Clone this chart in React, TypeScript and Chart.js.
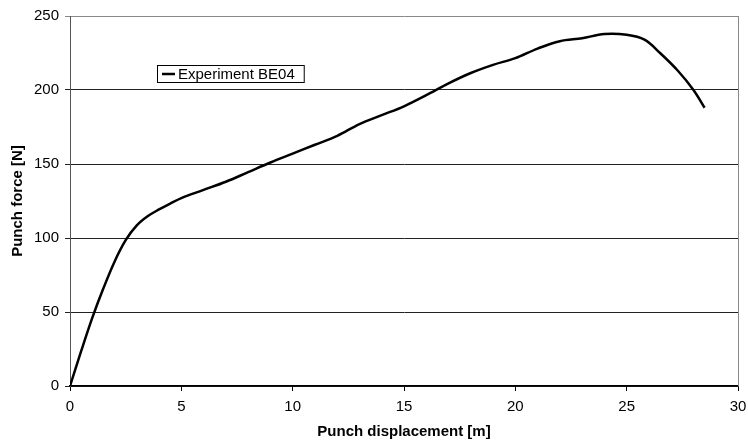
import React, { useEffect, useRef } from "react";
import { Chart, registerables } from "chart.js";

Chart.register(...registerables);

const displacement = [0, 0.5, 1.0, 1.5, 2.0, 2.5, 3.0, 3.5, 4.0, 4.5, 5.0, 6.0, 7.0, 8.0, 9.0, 10.0, 11.0, 12.0, 13.0, 14.0, 15.0, 16.0, 17.0, 18.0, 19.0, 20.0, 21.0, 22.0, 23.0, 24.0, 25.0, 25.8, 26.5, 27.3, 28.0, 28.5];
const force = [0, 23.5, 46, 66, 84, 98.5, 108.5, 114.8, 119.3, 123.3, 127, 132.5, 138, 144.5, 151, 157, 163, 169, 177, 183, 189, 196.5, 204.5, 211.5, 217, 221.5, 228, 233, 235, 237.8, 237.3, 234, 225, 213, 200, 188];
const seriesLabel = "Experiment BE04";
const xTitle = "Punch displacement [m]";
const yTitle = "Punch force [N]";

const FONT = "'Liberation Sans', Arial, sans-serif";

const legendPlugin = {
  id: "customLegend",
  afterDraw(chart: any) {
    const { ctx, chartArea } = chart;
    const x = chartArea.left + 87;
    const y = chartArea.top + 49;
    ctx.save();
    ctx.font = `15px ${FONT}`;
    const tw = ctx.measureText(seriesLabel).width;
    const w = 25 + tw + 5;
    const h = 17;
    ctx.fillStyle = "#fff";
    ctx.fillRect(x, y, w, h);
    ctx.strokeStyle = "#000";
    ctx.lineWidth = 1;
    ctx.strokeRect(x + 0.5, y + 0.5, w, h);
    ctx.beginPath();
    ctx.lineWidth = 2.5;
    ctx.moveTo(x + 5, y + h / 2 + 0.5);
    ctx.lineTo(x + 18, y + h / 2 + 0.5);
    ctx.stroke();
    ctx.fillStyle = "#000";
    ctx.textBaseline = "middle";
    ctx.fillText(seriesLabel, x + 21, y + h / 2 + 1);
    ctx.strokeStyle = "#888";
    ctx.lineWidth = 1;
    ctx.beginPath();
    ctx.moveTo(chartArea.right + 0.5, chartArea.top);
    ctx.lineTo(chartArea.right + 0.5, chartArea.bottom);
    ctx.stroke();
    ctx.restore();
  },
};

export default function App() {
  const ref = useRef<HTMLCanvasElement | null>(null);
  useEffect(() => {
    document.body.style.margin = "0";
    const chart = new Chart(ref.current as HTMLCanvasElement, {
      type: "line",
      data: {
        datasets: [
          {
            label: seriesLabel,
            data: displacement.map((x, i) => ({ x, y: force[i] })),
            borderColor: "#000",
            borderWidth: 2.5,
            pointRadius: 0,
            tension: 0.35,
            fill: false,
          },
        ],
      },
      options: {
        animation: false,
        responsive: false,
        maintainAspectRatio: false,
        layout: { padding: { left: 0, top: 16, right: 10, bottom: 0 } },
        plugins: { legend: { display: false }, tooltip: { enabled: false } },
        scales: {
          x: {
            type: "linear",
            min: 0,
            max: 30,
            ticks: { stepSize: 5, color: "#000", font: { family: FONT, size: 15 }, padding: 7 },
            grid: { drawOnChartArea: false, drawTicks: true, tickLength: 5, color: "#000" },
            border: { color: "#000", width: 1.5 },
            title: { display: true, text: xTitle, color: "#000", font: { family: FONT, size: 15, weight: "bold" }, padding: { top: 0, bottom: 0 } },
            afterFit: (s: any) => { s.height = 55; s.paddingRight = 0; s.paddingLeft = 0; },
          },
          y: {
            min: 0,
            max: 250,
            ticks: { stepSize: 50, color: "#000", font: { family: FONT, size: 15 }, padding: 6 },
            grid: {
              drawTicks: true,
              tickLength: 5,
              color: (c: any) => (c.tick && c.tick.value === 250 ? "#888" : "#222"),
              lineWidth: 1,
            },
            border: { color: "#555", width: 1 },
            title: { display: true, text: yTitle, color: "#000", font: { family: FONT, size: 15, weight: "bold" }, padding: { top: 9, bottom: 0 } },
            afterFit: (s: any) => { s.width = 70; },
          },
        },
      },
      plugins: [legendPlugin],
    } as any);
    return () => chart.destroy();
  }, []);
  return (
    <div style={{ width: 748, height: 441 }}>
      <canvas ref={ref} width={748} height={441} style={{ display: "block" }} />
    </div>
  );
}
